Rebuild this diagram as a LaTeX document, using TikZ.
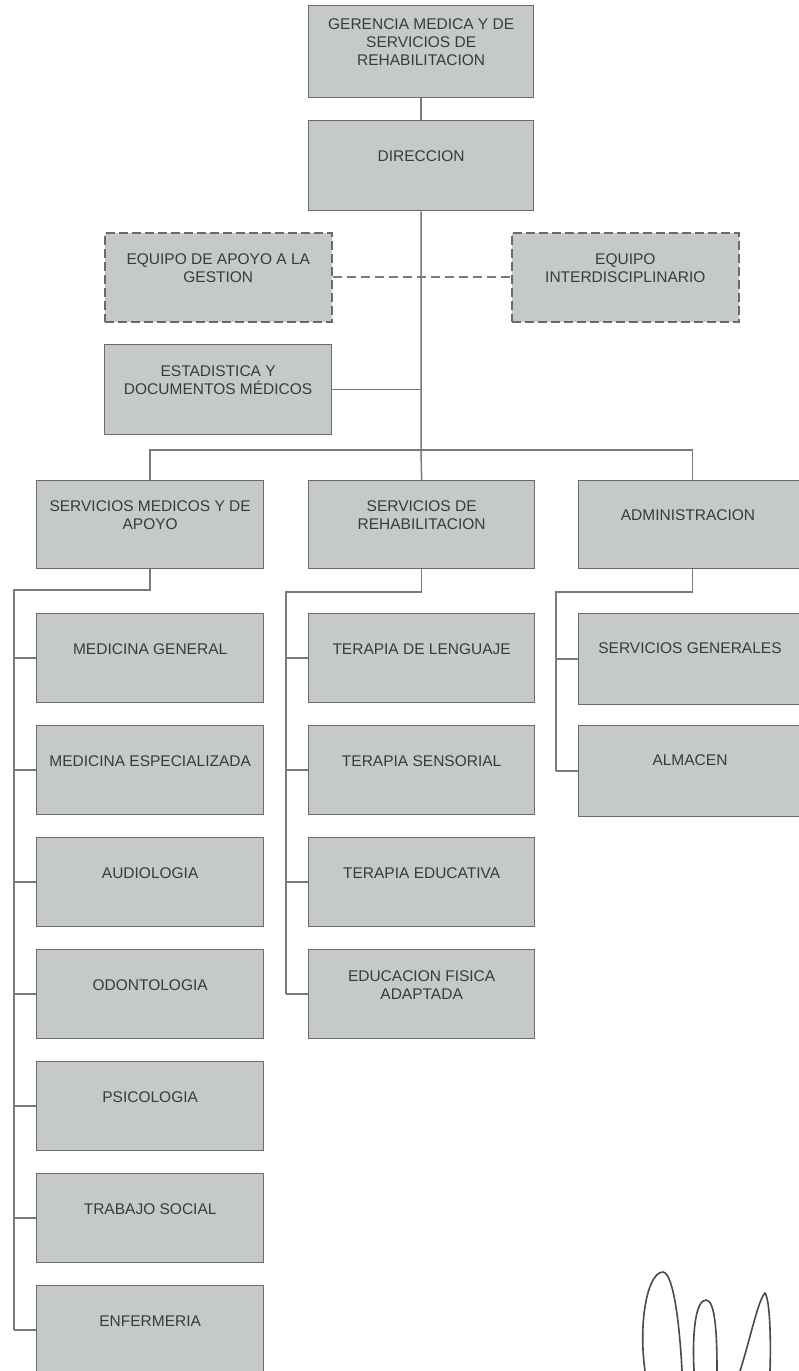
\documentclass[tikz,border=0pt]{standalone}
\usepackage{fontspec}
\setmainfont{Liberation Sans}
\definecolor{boxfill}{HTML}{C6CAC7}
\definecolor{boxline}{HTML}{6A6A6A}
\definecolor{wire}{HTML}{7A7A7A}
\definecolor{ink}{HTML}{3A3A3A}
\definecolor{pen}{HTML}{4A4A4A}
\tikzset{
  unit/.style={draw=boxline, fill=boxfill, line width=1.3pt, minimum width=227pt,
    minimum height=89pt, inner sep=0pt, anchor=north west},
  staff/.style={unit, dash pattern=on 9pt off 4pt, line width=1.6pt},
  caption/.style={text=ink, align=center, inner sep=0pt,
    font=\fontsize{15.5}{18}\selectfont},
  wirestyle/.style={draw=wire, line width=1.5pt},
  dottedlink/.style={wirestyle, line width=1.8pt, dash pattern=on 9pt off 5pt},
  sig/.style={draw=pen, line width=1.6pt, line cap=round}
}
\newcommand{\unitlabel}[3]{\node[caption] (#1) at ([yshift=9pt]#2.center) {#3};}
\begin{document}
\begin{tikzpicture}[x=1pt, y=-1pt]
\useasboundingbox (0,0) rectangle (798,1371);
\fill[white] (0,0) rectangle (798,1371);

% top of the hierarchy
\node[unit, minimum width=225pt, minimum height=92pt] (gm) at (308,5) {};
\node[unit, minimum width=225pt, minimum height=90pt] (dir) at (308,120) {};
\node[staff] (apoyo) at (104,232) {};
\node[staff] (inter) at (511,232) {};
\node[unit, minimum height=90pt] (est) at (104,344) {};

% second level
\node[unit, minimum height=88pt] (smed) at (36,480) {};
\node[unit, minimum width=226pt, minimum height=88pt] (sreh) at (308,480) {};
\node[unit, minimum width=228pt, minimum height=88pt] (adm) at (578,480) {};

% medical services column
\node[unit] (mg) at (36,613) {};
\node[unit] (me) at (36,725) {};
\node[unit] (au) at (36,837) {};
\node[unit] (od) at (36,949) {};
\node[unit] (ps) at (36,1061) {};
\node[unit] (ts) at (36,1173) {};
\node[unit] (en) at (36,1285) {};

% rehabilitation column
\node[unit, minimum width=226pt] (tl) at (308,613) {};
\node[unit, minimum width=226pt] (tse) at (308,725) {};
\node[unit, minimum width=226pt] (te) at (308,837) {};
\node[unit, minimum width=226pt] (ef) at (308,949) {};

% administration column
\node[unit, minimum width=228pt, minimum height=91pt] (sg) at (578,613) {};
\node[unit, minimum width=228pt, minimum height=91pt] (al) at (578,725) {};

% labels
\unitlabel{gm-t}{gm}{GERENCIA MEDICA Y DE\\SERVICIOS DE\\REHABILITACION}
\unitlabel{dir-t}{dir}{DIRECCION}
\unitlabel{apoyo-t}{apoyo}{EQUIPO DE APOYO A LA\\GESTION}
\unitlabel{inter-t}{inter}{EQUIPO\\INTERDISCIPLINARIO}
\unitlabel{est-t}{est}{ESTADISTICA Y\\DOCUMENTOS MÉDICOS}
\unitlabel{smed-t}{smed}{SERVICIOS MEDICOS Y DE\\APOYO}
\unitlabel{sreh-t}{sreh}{SERVICIOS DE\\REHABILITACION}
\node[caption] (adm-t) at (688,515) {ADMINISTRACION};
\unitlabel{mg-t}{mg}{MEDICINA GENERAL}
\unitlabel{me-t}{me}{MEDICINA ESPECIALIZADA}
\unitlabel{au-t}{au}{AUDIOLOGIA}
\unitlabel{od-t}{od}{ODONTOLOGIA}
\unitlabel{ps-t}{ps}{PSICOLOGIA}
\unitlabel{ts-t}{ts}{TRABAJO SOCIAL}
\unitlabel{en-t}{en}{ENFERMERIA}
\unitlabel{tl-t}{tl}{TERAPIA DE LENGUAJE}
\unitlabel{tse-t}{tse}{TERAPIA SENSORIAL}
\unitlabel{te-t}{te}{TERAPIA EDUCATIVA}
\unitlabel{ef-t}{ef}{EDUCACION FISICA\\ADAPTADA}
\node[caption] (sg-t) at (690,648) {SERVICIOS GENERALES};
\node[caption] (al-t) at (690,760) {ALMACEN};

% branching points
\coordinate (hub) at (421,450);
\coordinate (c1) at (14,590);
\coordinate (c2) at (286,592);
\coordinate (c3) at (556,592);

% main trunk
\draw[wirestyle] (gm.south) -- (dir.north);
\draw[wirestyle] (dir.south) -- (hub);
\draw[dottedlink] (apoyo.east) -- (inter.west);
\draw[wirestyle] (est.east) -- (est.east -| hub);
\draw[wirestyle] (smed.north) |- (hub) -| (adm.north);
\draw[wirestyle] (hub) -- (sreh.north);

% medical services branch
\draw[wirestyle] (smed.south) |- (c1) -- (c1 |- en.west);
\foreach \b in {mg,me,au,od,ps,ts,en}
  \draw[wirestyle] (c1 |- \b.west) -- (\b.west);

% rehabilitation branch
\draw[wirestyle] (sreh.south) |- (c2) -- (c2 |- ef.west);
\foreach \b in {tl,tse,te,ef}
  \draw[wirestyle] (c2 |- \b.west) -- (\b.west);

% administration branch
\draw[wirestyle] (adm.south) |- (c3) -- (c3 |- al.west);
\foreach \b in {sg,al}
  \draw[wirestyle] (c3 |- \b.west) -- (\b.west);

% handwritten signature
\draw[sig] (645,1371) .. controls (638,1320) and (648,1272) .. (663,1272)
  .. controls (674,1273) and (680,1330) .. (682,1371);
\draw[sig] (694,1371) .. controls (692,1330) and (696,1300) .. (706,1300)
  .. controls (716,1300) and (717,1340) .. (717,1371);
\draw[sig] (740,1371) .. controls (750,1340) and (758,1300) .. (765,1293)
  .. controls (770,1300) and (771,1340) .. (770,1371);
\end{tikzpicture}
\end{document}
